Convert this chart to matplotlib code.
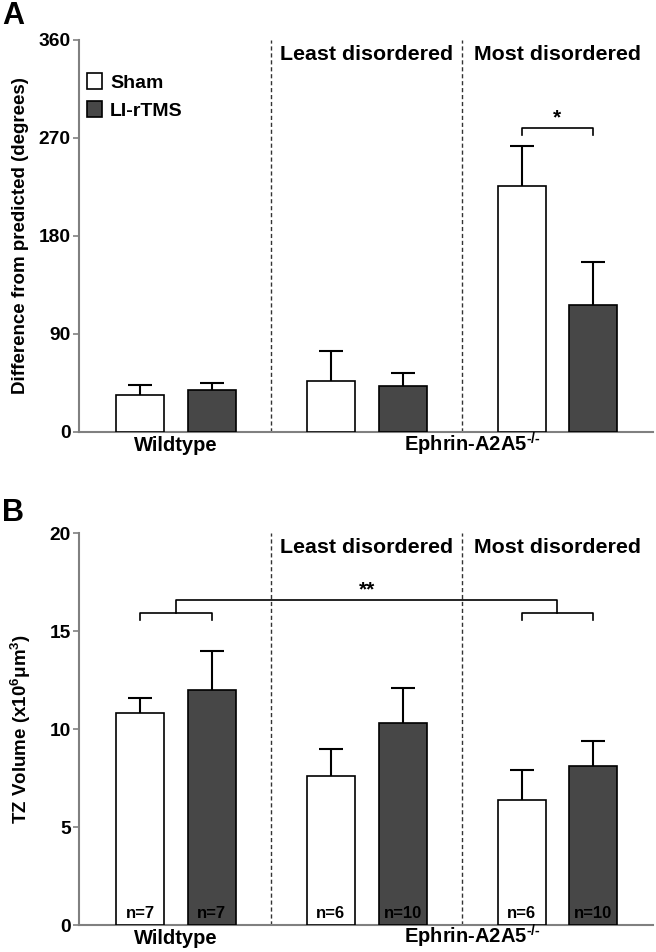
import matplotlib
matplotlib.use("Agg")
import matplotlib.pyplot as plt
from matplotlib.patches import Patch
import numpy as np

plt.rcParams['font.family'] = ['Liberation Sans', 'DejaVu Sans']
plt.rcParams['font.weight'] = 'bold'
plt.rcParams['mathtext.fontset'] = 'custom'
plt.rcParams['mathtext.rm'] = 'Liberation Sans:bold'
plt.rcParams['mathtext.bf'] = 'Liberation Sans:bold'
plt.rcParams['mathtext.it'] = 'Liberation Sans:bold'
plt.rcParams['mathtext.default'] = 'bf'

# --- data ---
treatments = ["Sham", "LI-rTMS"]
group_titles = ["", "Least disordered", "Most disordered"]
genotype_labels = ["Wildtype", r"Ephrin-A2A5$^{\text{-/-}}$"]

# Panel A: difference from predicted (degrees)
a_sham = [34, 47, 226]
a_sham_err = [9, 27, 37]
a_rtms = [39, 42, 117]
a_rtms_err = [6, 12, 39]
a_ticks = [0, 90, 180, 270, 360]

# Panel B: TZ volume (x10^6 um^3)
b_sham = [10.8, 7.6, 6.4]
b_sham_err = [0.8, 1.4, 1.5]
b_rtms = [12.0, 10.3, 8.1]
b_rtms_err = [2.0, 1.8, 1.3]
b_ticks = [0, 5, 10, 15, 20]
n_sham = [7, 6, 6]
n_rtms = [7, 10, 10]

# --- layout ---
g = np.array([0, 2.66, 5.32])
xs = g - 0.5
xr = g + 0.5
bw = 0.67
dark = '#474747'
axis_grey = '#808080'

fig = plt.figure(figsize=(6.56, 9.52), dpi=100)
axA = fig.add_axes([79/656, 1-432/952, 574/656, 392/952])
axB = fig.add_axes([79/656, 1-925/952, 574/656, 392/952])


def draw_panel(ax, sham, sham_err, rtms, rtms_err, ticks):
    sham, sham_err = np.array(sham), np.array(sham_err)
    rtms, rtms_err = np.array(rtms), np.array(rtms_err)
    ax.bar(xs, sham, width=bw, color='white', edgecolor='black', linewidth=1.2, zorder=3)
    ax.bar(xr, rtms, width=bw, color=dark, edgecolor='black', linewidth=1.2, zorder=3)
    for x, v, e in [(xs, sham, sham_err), (xr, rtms, rtms_err)]:
        ax.vlines(x, v, v + e, color='black', lw=1.5, zorder=2)
        ax.hlines(v + e, x - bw/4, x + bw/4, color='black', lw=1.5, zorder=2)

    ax.set_xlim(-1.353, 6.653)
    ax.set_ylim(ticks[0], ticks[-1])
    ax.set_yticks(ticks)
    ax.tick_params(axis='y', length=4, width=1.2, color=axis_grey, labelsize=13.8, pad=2)
    ax.set_xticks([])
    for s in ['top', 'right']:
        ax.spines[s].set_visible(False)
    for s in ['left', 'bottom']:
        ax.spines[s].set_color(axis_grey)
        ax.spines[s].set_linewidth(1.5)

    # genotype labels under the axis
    for x, lab in zip([g[0], (g[1] + g[2]) / 2 + 0.14], genotype_labels):
        ax.text(x, -19/392, lab, transform=ax.get_xaxis_transform(), ha='center',
                va='baseline', fontsize=14.5)

    # group separators and titles
    for sep in [(g[0] + g[1]) / 2, (g[1] + g[2]) / 2]:
        ax.axvline(sep, color='#333333', lw=1, ls=(0, (3, 2)), zorder=1)
    for gx, t in zip(g, group_titles):
        ax.text(gx, 0.962, t, transform=ax.get_xaxis_transform(), ha='center',
                va='center', fontsize=15.4)


draw_panel(axA, a_sham, a_sham_err, a_rtms, a_rtms_err, a_ticks)
draw_panel(axB, b_sham, b_sham_err, b_rtms, b_rtms_err, b_ticks)

# legend
handles = [Patch(facecolor='white', edgecolor='black', linewidth=1.2),
           Patch(facecolor=dark, edgecolor='black', linewidth=1.2)]
axA.legend(handles, treatments, loc='upper left', bbox_to_anchor=(0.014, 0.915),
           frameon=False, fontsize=14, handlelength=0.78, handleheight=0.9,
           handletextpad=0.4, labelspacing=0.45, borderpad=0, borderaxespad=0)

# panel A significance (most disordered)
top3 = max(a_sham[2] + a_sham_err[2], a_rtms[2] + a_rtms_err[2])
ya = top3 + 16
axA.plot([xs[2], xs[2], xr[2], xr[2]], [ya - 6, ya, ya, ya - 6], color='black', lw=1.2)
axA.text(g[2], ya + 1, '*', ha='center', va='bottom', fontsize=15)

# panel B significance (wildtype vs most disordered)
top_b = max(b_sham[0] + b_sham_err[0], b_rtms[0] + b_rtms_err[0])
yb = top_b + 1.9
yb2 = yb + 0.68
for i in [0, 2]:
    axB.plot([xs[i], xs[i], xr[i], xr[i]], [yb - 0.35, yb, yb, yb - 0.35], color='black', lw=1.2)
axB.plot([g[0], g[0], g[2], g[2]], [yb, yb2, yb2, yb], color='black', lw=1.2)
axB.text((g[0] + g[2]) / 2, yb2 + 0.02, '**', ha='center', va='bottom', fontsize=15)

# n labels
for i in range(3):
    axB.text(xs[i], 0.2, f'n={n_sham[i]}', ha='center', va='bottom', fontsize=12)
    axB.text(xr[i], 0.2, f'n={n_rtms[i]}', ha='center', va='bottom', fontsize=12)

# axis labels and panel letters
fig.text(21/656, 1 - 236/952, 'Difference from predicted (degrees)', rotation=90,
         ha='center', va='center', fontsize=13.5)
fig.text(21/656, 1 - 729/952, r'TZ Volume (x10$^{6}$μm$^{3}$)', rotation=90,
         ha='center', va='center', fontsize=13.5)
fig.text(2/656, 1 - 1/952, 'A', fontsize=22, ha='left', va='top')
fig.text(2/656, 1 - 498/952, 'B', fontsize=22, ha='left', va='top')

fig.savefig('out.png', dpi=100)
